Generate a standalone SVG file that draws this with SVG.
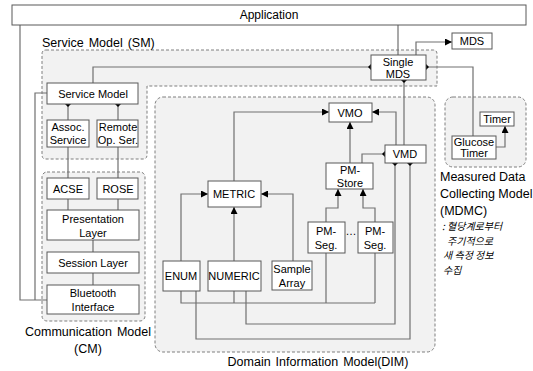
<svg xmlns="http://www.w3.org/2000/svg" width="533" height="371" viewBox="0 0 533 371">
<defs>
<marker id="arr" viewBox="0 0 10 10" refX="10" refY="5" markerWidth="7" markerHeight="7" orient="auto" markerUnits="userSpaceOnUse"><path d="M0,0 L10,5 L0,10 z" fill="#000"/></marker>
<marker id="dia" viewBox="0 0 10 10" refX="5" refY="5" markerWidth="6" markerHeight="6" orient="auto" markerUnits="userSpaceOnUse"><path d="M0,5 L5,0 L10,5 L5,10 z" fill="#000"/></marker>
</defs>
<style>
.box{fill:#fff;stroke:#595959;stroke-width:1}
.reg{fill:#f2f2f2;stroke:#7f7f7f;stroke-width:1;stroke-dasharray:3,2}
.t{font-family:"Liberation Sans","Noto Sans CJK KR",sans-serif;font-size:11px;fill:#000;text-anchor:middle}
.lbl{font-family:"Liberation Sans","Noto Sans CJK KR",sans-serif;font-size:12.5px;fill:#000;word-spacing:1.5px}
.ko{font-family:"Noto Sans CJK KR",sans-serif;font-size:10px;font-style:italic;fill:#000}
.c{fill:none;stroke:#707070;stroke-width:1.2}
.a{marker-end:url(#arr)}
.ds{marker-start:url(#dia)}
.de{marker-end:url(#dia)}
</style>
<rect width="533" height="371" fill="#fff"/>
<g id="regions">
<path class="reg" d="M46,50 H433 Q437,50 437,54 V86 H147 V155 Q147,159 143,159 H46 Q42,159 42,155 V54 Q42,50 46,50 Z"/>
<rect class="reg" x="42" y="172" width="103" height="149" rx="5"/>
<rect class="reg" x="155" y="97" width="280" height="255" rx="8"/>
<rect class="reg" x="445" y="97" width="81" height="70" rx="8"/>
</g>
<g id="labels">
<text class="lbl" x="42" y="47">Service Model (SM)</text>
<text class="lbl" x="88" y="336" text-anchor="middle">Communication Model</text>
<text class="lbl" x="88" y="353" text-anchor="middle">(CM)</text>
<text class="lbl" x="318" y="366" text-anchor="middle">Domain Information Model(DIM)</text>
<text class="lbl" x="440" y="181" style="word-spacing:0">Measured Data</text>
<text class="lbl" x="440" y="198" style="word-spacing:0">Collecting Model</text>
<text class="lbl" x="440" y="215" style="word-spacing:0">(MDMC)</text>
<text class="ko" x="442" y="230">: 혈당계로부터</text>
<text class="ko" x="447" y="244.5">주기적으로</text>
<text class="ko" x="443" y="259">새 측정 정보</text>
<text class="ko" x="443" y="273.5">수집</text>
</g>
<g id="connectors">
<path class="c" d="M398,25 V55"/>
<path class="c a" d="M416,55 V42 H452"/>
<path class="c ds" d="M371,67 H93 V83"/>
<path class="c ds" d="M426,67 H473 V136"/>
<path class="c ds" d="M404,80 V145"/>
<path class="c" d="M20,25 V300 H47"/>
<path class="c" d="M47,93 H35 V300"/>
<path class="c ds" d="M68,104 V120"/>
<path class="c ds" d="M118,104 V120"/>
<path class="c" d="M68,147 V178 M118,147 V178 M68,199 V210 M118,199 V210 M93,240 V252 M93,273 V285"/>
<path class="c a" d="M234,181 V112 H329"/>
<path class="c a" d="M396,145 V112 H372"/>
<path class="c a" d="M350,163 V122"/>
<path class="c ds" d="M385,154 H362 V163"/>
<path class="c a" d="M326,222 V208 H338 V189"/>
<path class="c a" d="M375,222 V208 H363 V189"/>
<path class="c a" d="M181,261 V194 H208"/>
<path class="c a" d="M234,261 V207"/>
<path class="c a" d="M293,261 V194 H261"/>
<path class="c" d="M181,291 V303 H375 M234,291 V303 M326,253 V303 M375,253 V303"/>
<path class="c de" d="M246,291 V324 H395 V163"/>
<path class="c de" d="M196,291 V339 H410 V163"/>
<path class="c a" d="M496,147 H505 V126"/>
</g>
<g id="application"><rect class="box" x="12" y="5" width="514" height="20"/><text class="t" x="269" y="19" style="font-size:12px">Application</text></g>
<g id="single-mds"><rect class="box" x="371" y="55" width="55" height="25"/><text class="t" x="398" y="66">Single</text><text class="t" x="398" y="78">MDS</text></g>
<g id="mds"><rect class="box" x="452" y="33" width="40" height="16"/><text class="t" x="472" y="45">MDS</text></g>
<g id="service-model"><rect class="box" x="47" y="83" width="91" height="21"/><text class="t" x="93" y="98">Service Model</text></g>
<g id="assoc"><rect class="box" x="47" y="120" width="42" height="27"/><text class="t" x="68" y="131">Assoc.</text><text class="t" x="68" y="144">Service</text></g>
<g id="remote"><rect class="box" x="97" y="120" width="41" height="27"/><text class="t" x="118" y="131">Remote</text><text class="t" x="118" y="144">Op. Ser.</text></g>
<g id="acse"><rect class="box" x="47" y="178" width="42" height="21"/><text class="t" x="68" y="193">ACSE</text></g>
<g id="rose"><rect class="box" x="97" y="178" width="41" height="21"/><text class="t" x="118" y="193">ROSE</text></g>
<g id="presentation"><rect class="box" x="47" y="210" width="92" height="30"/><text class="t" x="93" y="223">Presentation</text><text class="t" x="93" y="237">Layer</text></g>
<g id="session"><rect class="box" x="47" y="252" width="92" height="21"/><text class="t" x="93" y="267">Session Layer</text></g>
<g id="bluetooth"><rect class="box" x="47" y="285" width="92" height="29"/><text class="t" x="93" y="297">Bluetooth</text><text class="t" x="93" y="311">Interface</text></g>
<g id="vmo"><rect class="box" x="329" y="103" width="43" height="19"/><text class="t" x="350" y="117">VMO</text></g>
<g id="vmd"><rect class="box" x="385" y="145" width="41" height="18"/><text class="t" x="405" y="158">VMD</text></g>
<g id="metric"><rect class="box" x="208" y="181" width="53" height="26"/><text class="t" x="234" y="198">METRIC</text></g>
<g id="pm-store"><rect class="box" x="326" y="163" width="47" height="26"/><text class="t" x="350" y="174">PM-</text><text class="t" x="350" y="187">Store</text></g>
<g id="pm-seg1"><rect class="box" x="308" y="222" width="37" height="31"/><text class="t" x="326" y="235">PM-</text><text class="t" x="326" y="249">Seg.</text></g>
<text class="t" x="351" y="235">…</text>
<g id="pm-seg2"><rect class="box" x="358" y="222" width="35" height="31"/><text class="t" x="375" y="235">PM-</text><text class="t" x="375" y="249">Seg.</text></g>
<g id="enum"><rect class="box" x="163" y="261" width="37" height="30"/><text class="t" x="181" y="280">ENUM</text></g>
<g id="numeric"><rect class="box" x="208" y="261" width="53" height="30"/><text class="t" x="234" y="280">NUMERIC</text></g>
<g id="sample-array"><rect class="box" x="272" y="261" width="40" height="29"/><text class="t" x="292" y="273">Sample</text><text class="t" x="292" y="287">Array</text></g>
<g id="timer"><rect class="box" x="480" y="112" width="34" height="14"/><text class="t" x="497" y="123">Timer</text></g>
<g id="glucose-timer"><rect class="box" x="452" y="136" width="44" height="23"/><text class="t" x="474" y="146">Glucose</text><text class="t" x="474" y="157">Timer</text></g>
</svg>
